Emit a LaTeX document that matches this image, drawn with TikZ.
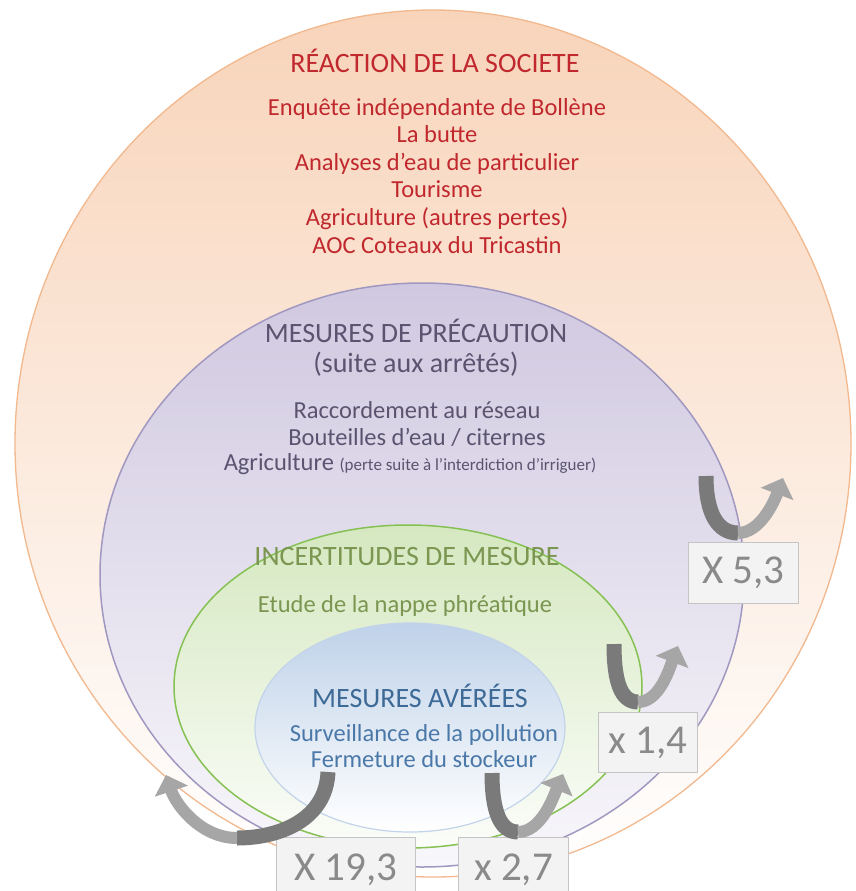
\documentclass[tikz,border=0pt]{standalone}
\usepackage{fontspec}
\setmainfont{Carlito}
\usetikzlibrary{arrows.meta}
\definecolor{orTop}{HTML}{F8D4BA}
\definecolor{orBot}{HTML}{FFFFFF}
\definecolor{orLine}{HTML}{F2B88E}
\definecolor{puTop}{HTML}{D0C8E0}
\definecolor{puBot}{HTML}{F8F7FB}
\definecolor{puLine}{HTML}{A098C0}
\definecolor{grTop}{HTML}{D5E8C0}
\definecolor{grBot}{HTML}{FBFDF9}
\definecolor{grLine}{HTML}{86C153}
\definecolor{blTop}{HTML}{BFD2E9}
\definecolor{blBot}{HTML}{FFFFFF}
\definecolor{blLine}{HTML}{C2D3EA}
\definecolor{redTxt}{HTML}{C0282E}
\definecolor{puTxt}{HTML}{5A5470}
\definecolor{grTxt}{HTML}{7A9650}
\definecolor{blHead}{HTML}{3D6A96}
\definecolor{blTxt}{HTML}{4A78A8}
\definecolor{arrDark}{HTML}{7A7A7A}
\definecolor{arrLight}{HTML}{A6A6A6}
\definecolor{boxFill}{HTML}{F3F3F3}
\definecolor{boxLine}{HTML}{C4C4C4}
\definecolor{boxTxt}{HTML}{8A8A8A}
\tikzset{
  head/.style={anchor=base, inner sep=0pt, font=\fontsize{28}{30}\selectfont},
  body/.style={anchor=base, inner sep=0pt, font=\fontsize{24.5}{26}\selectfont},
  valbox/.style={draw=boxLine, fill=boxFill, line width=1pt, text=boxTxt,
    font=\fontsize{41}{44}\selectfont, anchor=north west, inner sep=0pt},
  arrdarkseg/.style={draw=arrDark, line width=15pt, line cap=butt},
  arrlightseg/.style={draw=arrLight, line width=12pt, line cap=butt,
    -{Triangle[width=34pt,length=17pt]}}
}
\begin{document}
\begin{tikzpicture}[x=1pt,y=-1pt]
\useasboundingbox (0,0) rectangle (856,891);
\fill[white] (0,0) rectangle (856,891);

% nested ellipses
\draw[draw=orLine, line width=1.3pt, top color=orTop, bottom color=orBot]
  (433,443.5) ellipse [x radius=418, y radius=433.5];
\draw[draw=puLine, line width=1.5pt, top color=puTop, bottom color=puBot]
  (422,575) ellipse [x radius=322, y radius=292];
\draw[draw=grLine, line width=1.5pt, top color=grTop, bottom color=grBot]
  (408,686.5) ellipse [x radius=234, y radius=161.5];
\draw[draw=blLine, line width=1.2pt, top color=blTop, bottom color=blBot]
  (410,727.5) ellipse [x radius=155, y radius=104.5];

% society reaction
\node[head, text=redTxt] (t1) at (435,72) {RÉACTION DE LA SOCIETE};
\node[body, text=redTxt] (r1) at (437,115) {Enquête indépendante de Bollène};
\node[body, text=redTxt] (r2) at (437,142.6) {La butte};
\node[body, text=redTxt] (r3) at (437,170.2) {Analyses d’eau de particulier};
\node[body, text=redTxt] (r4) at (437,197.8) {Tourisme};
\node[body, text=redTxt] (r5) at (437,225.4) {Agriculture (autres pertes)};
\node[body, text=redTxt] (r6) at (437,253) {AOC Coteaux du Tricastin};

% precaution
\node[head, text=puTxt] (t2) at (416,342) {MESURES DE PRÉCAUTION};
\node[head, text=puTxt] (t2b) at (416,372) {(suite aux arrêtés)};
\node[body, text=puTxt] (p1) at (417,418) {Raccordement au réseau};
\node[body, text=puTxt] (p2) at (417,445) {Bouteilles d’eau / citernes};
\node[body, text=puTxt] (p3) at (410,470) {Agriculture {\fontsize{17}{19}\selectfont(perte suite à l’interdiction d’irriguer)}};

% uncertainties
\node[head, text=grTxt] (t3) at (407,565) {INCERTITUDES DE MESURE};
\node[body, text=grTxt] (g1) at (405,612) {Etude de la nappe phréatique};

% proven measures
\node[head, text=blHead] (t4) at (420,707) {MESURES AVÉRÉES};
\node[body, text=blTxt] (b1) at (424,741) {Surveillance de la pollution};
\node[body, text=blTxt] (b2) at (424,767) {Fermeture du stockeur};

% value boxes
\node[valbox, minimum width=110pt, minimum height=61pt] (v53) at (688,542) {X 5,3};
\node[valbox, minimum width=99pt, minimum height=60pt] (v14) at (598,712) {x 1,4};
\node[valbox, minimum width=139pt, minimum height=53.5pt, text height=38pt, text depth=5pt] (v193) at (276,837) {X 19,3};
\node[valbox, minimum width=110pt, minimum height=53.5pt, text height=38pt, text depth=5pt] (v27) at (458,837) {x 2,7};

% curved arrows
\coordinate (a53s) at (706,476);
\coordinate (a53b) at (738,533);
\coordinate (a53e) at (783,478);
\draw[arrdarkseg] (a53s) .. controls +(0,38) and +(-20,0) .. (a53b);
\draw[arrlightseg] (a53b) .. controls +(22,0) and +(-9,24) .. (a53e);

\coordinate (a14s) at (614,644);
\coordinate (a14b) at (638,702);
\coordinate (a14e) at (678,646);
\draw[arrdarkseg] (a14s) .. controls +(0,38) and +(-17,0) .. (a14b);
\draw[arrlightseg] (a14b) .. controls +(21,0) and +(-9,24) .. (a14e);

\coordinate (a27s) at (492,773);
\coordinate (a27b) at (518,832);
\coordinate (a27e) at (563,774);
\draw[arrdarkseg] (a27s) .. controls +(0,38) and +(-18,0) .. (a27b);
\draw[arrlightseg] (a27b) .. controls +(23,0) and +(-10,24) .. (a27e);

\coordinate (a193s) at (328,772);
\coordinate (a193b) at (237,838);
\coordinate (a193e) at (166,775);
\draw[arrdarkseg] (a193s) .. controls +(-2,48) and +(42,0) .. (a193b);
\draw[arrlightseg] (a193b) .. controls +(-36,0) and +(10,30) .. (a193e);
\end{tikzpicture}
\end{document}
